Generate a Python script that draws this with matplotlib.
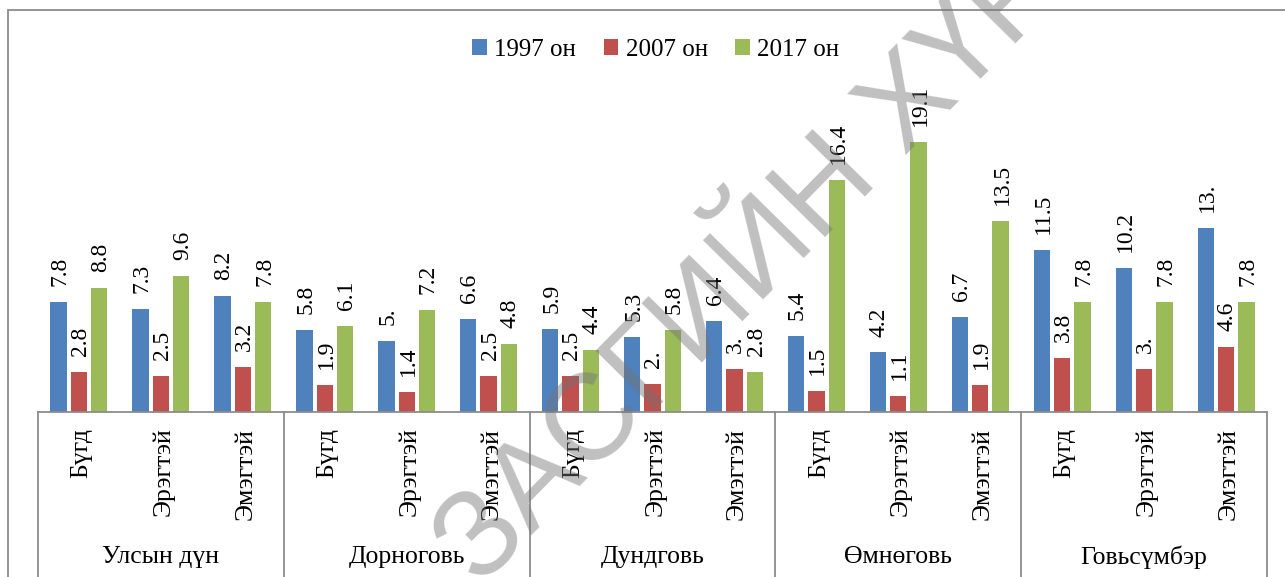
# -*- coding: utf-8 -*-
import numpy as np
import matplotlib
matplotlib.use('Agg')
import matplotlib.pyplot as plt
from matplotlib.patches import Rectangle

### data
regions = ['Улсын дүн', 'Дорноговь', 'Дундговь', 'Өмнөговь', 'Говьсүмбэр']
subcats = ['Бүгд', 'Эрэгтэй', 'Эмэгтэй']
series_names = ['1997 он', '2007 он', '2017 он']

vals_1997 = [7.8, 7.3, 8.2, 5.8, 5.0, 6.6, 5.9, 5.3, 6.4, 5.4, 4.2, 6.7, 11.5, 10.2, 13.0]
vals_2007 = [2.8, 2.5, 3.2, 1.9, 1.4, 2.5, 2.5, 2.0, 3.0, 1.5, 1.1, 1.9, 3.8, 3.0, 4.6]
vals_2017 = [8.8, 9.6, 7.8, 6.1, 7.2, 4.8, 4.4, 5.8, 2.8, 16.4, 19.1, 13.5, 7.8, 7.8, 7.8]

colors = ['#4F81BD', '#C0504D', '#9BBB59']
watermark = 'ЗАСГИЙН ХҮРЭЭ'


def fmt_label(v):
    s = "%.1f" % v
    if s.endswith('.0'):
        s = s[:-1]
    return s


def main():
    plt.rcParams['font.family'] = ['Liberation Serif', 'DejaVu Serif']
    W, H = 1285, 577
    fig = plt.figure(figsize=(W / 100., H / 100.), dpi=100)

    # outer chart frame (only top and left edges visible)
    fig.add_artist(Rectangle((8. / W, -0.2), 1.5, (H - 10.) / H + 0.2,
                             transform=fig.transFigure, fill=False,
                             ec='#8c8c8c', lw=1.3))

    ax = fig.add_axes([38. / W, (H - 411.7) / H, 1229. / W, 352.5 / H])
    ncat = len(regions) * len(subcats)
    x = np.arange(ncat)
    width = 0.199
    pitch = 0.248

    all_vals = [vals_1997, vals_2007, vals_2017]
    handles = []
    for i, (vals, c, name) in enumerate(zip(all_vals, colors, series_names)):
        xi = x + (i - 1) * pitch
        b = ax.bar(xi, vals, width=width, color=c, label=name, zorder=2)
        handles.append(b)
        for xx, v in zip(xi, vals):
            ax.annotate(fmt_label(v), (xx, v), xytext=(1, 11.5),
                        textcoords='offset points', rotation=90,
                        ha='center', va='bottom', fontsize=17, zorder=3)

    ax.set_xlim(-0.5, ncat - 0.5)
    ax.set_ylim(0, 25)
    for sp in ['top', 'left', 'right']:
        ax.spines[sp].set_visible(False)
    ax.spines['bottom'].set_color('#8c8c8c')
    ax.spines['bottom'].set_linewidth(1.3)
    ax.set_yticks([])
    ax.set_xticks([])

    # multi-level category axis
    trans = ax.get_xaxis_transform()
    for k in range(len(regions) + 1):
        xs = k * len(subcats) - 0.5
        ax.plot([xs, xs], [0, -0.5], transform=trans, color='#8c8c8c',
                lw=1.3, clip_on=False)
    px_per_ax = 352.5
    for ic in range(ncat):
        ax.text(x[ic] + 0.03, -16. / px_per_ax, subcats[ic % len(subcats)],
                transform=trans, rotation=90, ha='center', va='top',
                fontsize=18.5)
    for ir, name in enumerate(regions):
        xc = ir * len(subcats) + 1
        ax.text(xc, -(557 - 411.7) / px_per_ax, name, transform=trans,
                ha='center', va='center', fontsize=18.5)

    fig.legend(handles=handles, labels=series_names, loc='center',
               bbox_to_anchor=(656. / W, 1 - 50. / H), ncol=3, frameon=False,
               fontsize=18, handlelength=0.58, handleheight=0.58,
               handletextpad=0.3, columnspacing=1.1)

    # watermark
    fig.text(457. / W, 1 - 566. / H, watermark, rotation=45.5,
             rotation_mode='anchor', ha='left', va='center',
             fontsize=88,
             family=['Liberation Sans Narrow', 'Liberation Sans'],
             color=(0.45, 0.45, 0.45), alpha=0.45, zorder=10)

    fig.savefig('out.png', dpi=100)


if __name__ == '__main__':
    main()
